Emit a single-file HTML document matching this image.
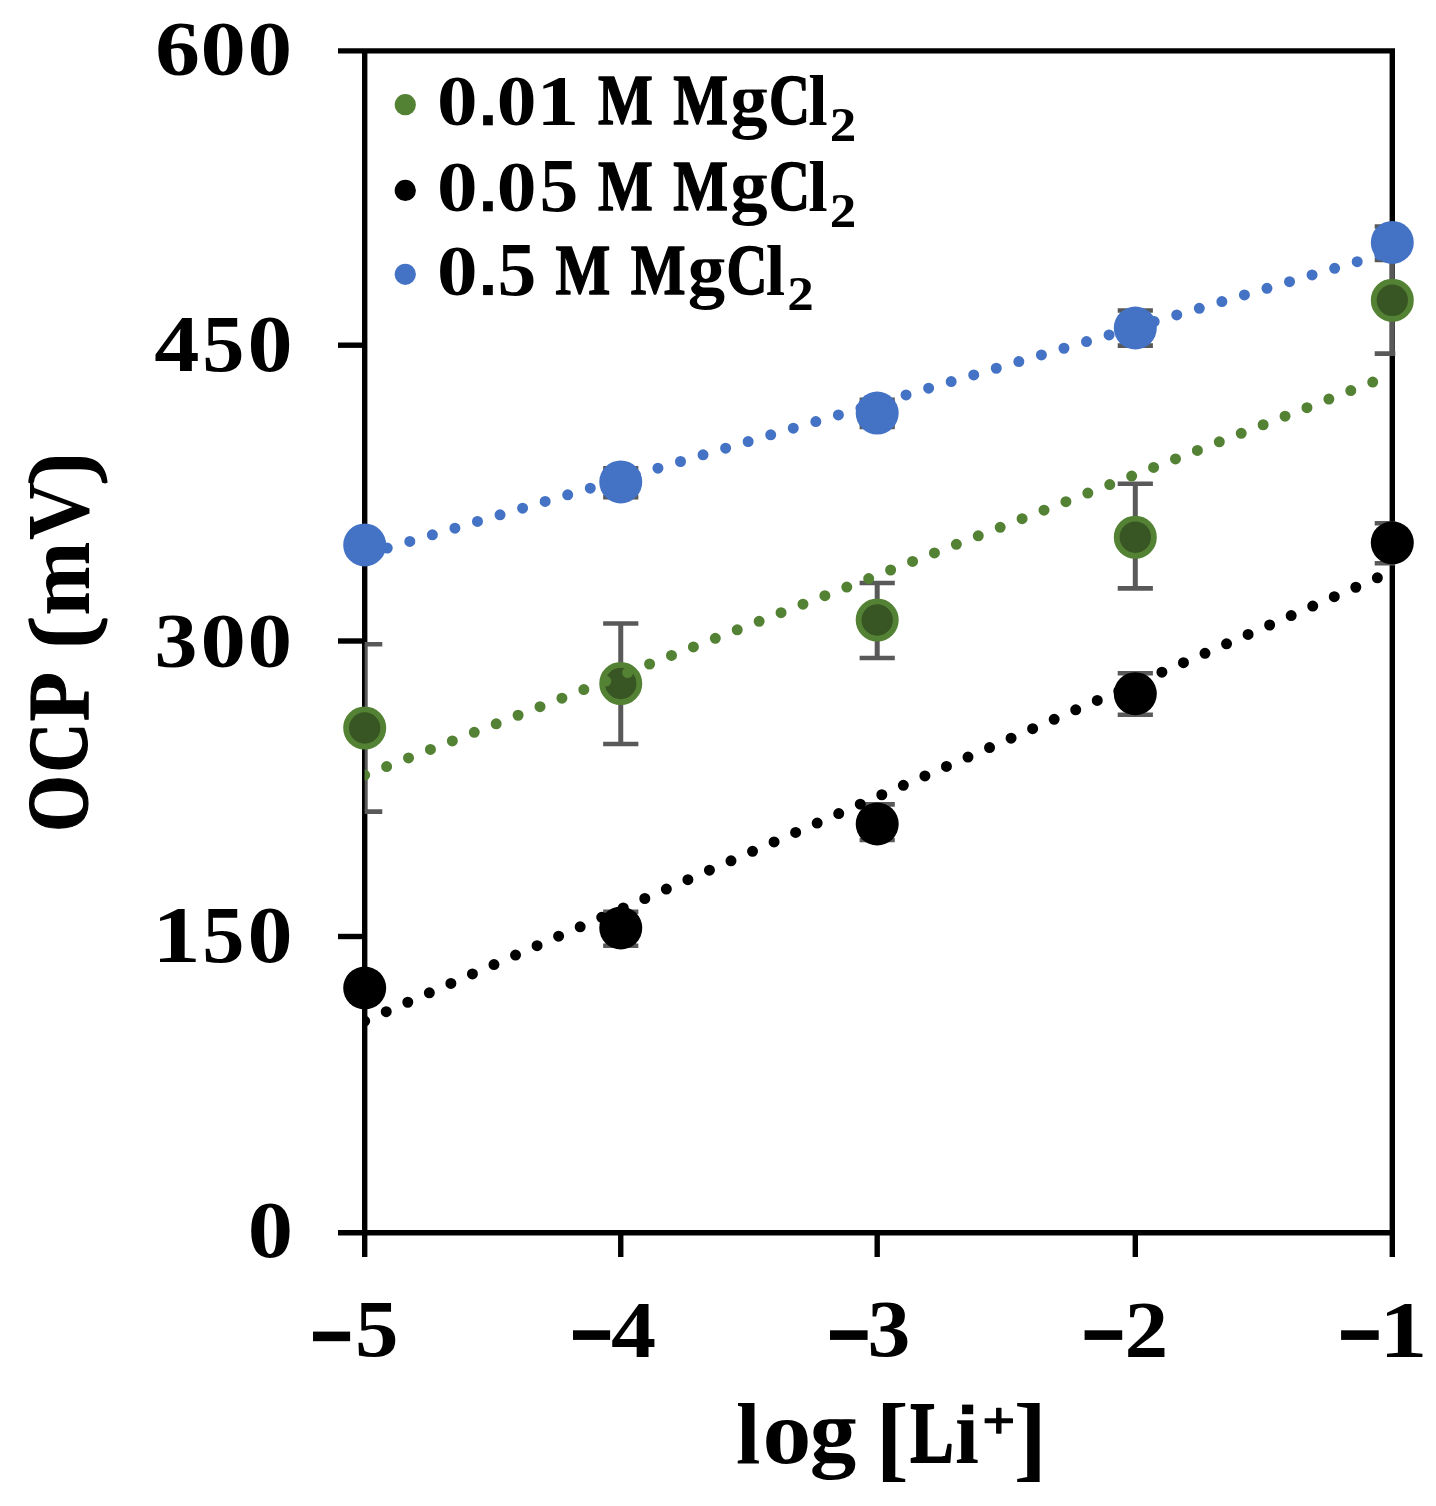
<!DOCTYPE html>
<html><head><meta charset="utf-8"><style>
html,body{margin:0;padding:0;background:#fff;width:1436px;height:1506px;overflow:hidden}
svg{display:block}
text{font-family:"Liberation Serif",serif;font-weight:bold}
</style></head><body>
<svg width="1436" height="1506" viewBox="0 0 1436 1506">
<rect width="1436" height="1506" fill="#fff"/>
<defs><clipPath id="pc"><rect x="364.7" y="48.4" width="1030.6" height="1186.8"/></clipPath></defs>
<g stroke="#000" stroke-width="5.4" fill="none" stroke-linecap="butt">
<path d="M338 50.9H1395.0 M364.7 48.199999999999996V1257 M338 1232.7H1392.3 M1392.3 48.199999999999996V1257"/>
<path d="M338 345.2H364.7"/>
<path d="M338 641.0H364.7"/>
<path d="M338 936.5H364.7"/>
<path d="M620.75 1232.7V1257"/>
<path d="M877.2 1232.7V1257"/>
<path d="M1135.3 1232.7V1257"/>
</g>
<g clip-path="url(#pc)" stroke="#595959" fill="none">
<path d="M364.7 644.2V811.6" stroke-width="5"/>
<path d="M347.09999999999997 644.2H382.3 M347.09999999999997 811.6H382.3" stroke-width="4.6"/>
<path d="M620.75 623.5V744.0" stroke-width="5"/>
<path d="M603.15 623.5H638.35 M603.15 744.0H638.35" stroke-width="4.6"/>
<path d="M877.2 583.0V658.0" stroke-width="5"/>
<path d="M859.6 583.0H894.8000000000001 M859.6 658.0H894.8000000000001" stroke-width="4.6"/>
<path d="M1135.3 483.7V588.4" stroke-width="5"/>
<path d="M1117.7 483.7H1152.8999999999999 M1117.7 588.4H1152.8999999999999" stroke-width="4.6"/>
<path d="M1392.3 247.3V353.6" stroke-width="5"/>
<path d="M1374.7 247.3H1409.8999999999999 M1374.7 353.6H1409.8999999999999" stroke-width="4.6"/>
<path d="M364.7 537V553" stroke-width="5"/>
<path d="M347.09999999999997 537H382.3 M347.09999999999997 553H382.3" stroke-width="4.6"/>
<path d="M620.75 468.4V497.2" stroke-width="5"/>
<path d="M603.15 468.4H638.35 M603.15 497.2H638.35" stroke-width="4.6"/>
<path d="M877.2 399.7V426.9" stroke-width="5"/>
<path d="M859.6 399.7H894.8000000000001 M859.6 426.9H894.8000000000001" stroke-width="4.6"/>
<path d="M1135.3 310.5V345.6" stroke-width="5"/>
<path d="M1117.7 310.5H1152.8999999999999 M1117.7 345.6H1152.8999999999999" stroke-width="4.6"/>
<path d="M1392.3 226.5V260.0" stroke-width="5"/>
<path d="M1374.7 226.5H1409.8999999999999 M1374.7 260.0H1409.8999999999999" stroke-width="4.6"/>
<path d="M364.7 980V996" stroke-width="5"/>
<path d="M347.09999999999997 980H382.3 M347.09999999999997 996H382.3" stroke-width="4.6"/>
<path d="M620.75 911.7V945.8" stroke-width="5"/>
<path d="M603.15 911.7H638.35 M603.15 945.8H638.35" stroke-width="4.6"/>
<path d="M877.2 804.4V840.0" stroke-width="5"/>
<path d="M859.6 804.4H894.8000000000001 M859.6 840.0H894.8000000000001" stroke-width="4.6"/>
<path d="M1135.3 673.3V714.8" stroke-width="5"/>
<path d="M1117.7 673.3H1152.8999999999999 M1117.7 714.8H1152.8999999999999" stroke-width="4.6"/>
<path d="M1392.3 523.3V563.3" stroke-width="5"/>
<path d="M1374.7 523.3H1409.8999999999999 M1374.7 563.3H1409.8999999999999" stroke-width="4.6"/>
</g>
<circle cx="364.7" cy="728.0" r="18.6" fill="#375623" stroke="#548235" stroke-width="5.8"/>
<circle cx="620.75" cy="683.5" r="18.6" fill="#375623" stroke="#548235" stroke-width="5.8"/>
<circle cx="877.2" cy="620.0" r="18.6" fill="#375623" stroke="#548235" stroke-width="5.8"/>
<circle cx="1135.3" cy="537.2" r="18.6" fill="#375623" stroke="#548235" stroke-width="5.8"/>
<circle cx="1392.3" cy="300.3" r="18.6" fill="#375623" stroke="#548235" stroke-width="5.8"/>
<circle cx="364.7" cy="988.0" r="21.5" fill="#000"/>
<circle cx="620.75" cy="928.0" r="21.5" fill="#000"/>
<circle cx="877.2" cy="824.0" r="21.5" fill="#000"/>
<circle cx="1135.3" cy="693.7" r="21.5" fill="#000"/>
<circle cx="1392.3" cy="542.8" r="21.5" fill="#000"/>
<circle cx="364.7" cy="544.9" r="21.5" fill="#4472C4"/>
<circle cx="620.75" cy="481.9" r="21.5" fill="#4472C4"/>
<circle cx="877.2" cy="413.1" r="21.5" fill="#4472C4"/>
<circle cx="1135.3" cy="328.0" r="21.5" fill="#4472C4"/>
<circle cx="1392.3" cy="242.4" r="21.5" fill="#4472C4"/>
<g clip-path="url(#pc)" fill="none" stroke-width="11" stroke-linecap="round" stroke-dasharray="0 23.52">
<path d="M364.7 775.06L1392.3 374.39" stroke="#548235"/>
<path d="M364.7 1021.12L1392.3 571.29" stroke="#000"/>
<path d="M364.7 554.78L1392.3 251.28" stroke="#4472C4"/>
</g>
<circle cx="405.3" cy="104.7" r="10.6" fill="#548235"/>
<circle cx="405.3" cy="190.4" r="10.6" fill="#000"/>
<circle cx="405.3" cy="274.3" r="10.6" fill="#4472C4"/>
<g font-family="Liberation Serif" font-weight="bold" font-size="100" fill="#000" style="font-kerning:none">
<text transform="matrix(0.8116 0 0 0.7261 436.91 124.89)">0</text>
<rect x="483.1" y="115.2" width="9.7" height="10.1"/>
<text transform="matrix(0.7951 0 0 0.7261 496.67 124.89)">0</text>
<text transform="matrix(0.8529 0 0 0.7260 536.57 124.90)">1</text>
<text transform="matrix(0.5813 0 0 0.7090 598.11 124.26)" stroke="#000" stroke-width="2.064" stroke-linejoin="round">M</text>
<text transform="matrix(0.5813 0 0 0.7090 673.21 124.26)" stroke="#000" stroke-width="2.064" stroke-linejoin="round">M</text>
<clipPath id="gc1"><rect x="729.1" y="89.70" width="40.7" height="55.5"/></clipPath>
<g clip-path="url(#gc1)"><text transform="matrix(0.7481 0 0 0.7299 730.13 124.09)">g</text></g>
<rect x="745.0" y="89.70" width="21.8" height="2.8"/>
<text transform="matrix(0.5677 0 0 0.7100 768.93 124.36)" stroke="#000" stroke-width="2.114" stroke-linejoin="round">C</text>
<text transform="matrix(0.7006 0 0 0.7105 808.33 125.00)">l</text>
<text transform="matrix(0.5301 0 0 0.4939 829.67 140.60)">2</text>
<text transform="matrix(0.8116 0 0 0.7261 436.91 210.89)">0</text>
<rect x="483.1" y="201.2" width="9.7" height="10.1"/>
<text transform="matrix(0.7951 0 0 0.7261 496.67 210.89)">0</text>
<text transform="matrix(0.7772 0 0 0.7584 539.49 210.86)">5</text>
<text transform="matrix(0.5813 0 0 0.7090 598.11 210.26)" stroke="#000" stroke-width="2.064" stroke-linejoin="round">M</text>
<text transform="matrix(0.5813 0 0 0.7090 673.21 210.26)" stroke="#000" stroke-width="2.064" stroke-linejoin="round">M</text>
<clipPath id="gc2"><rect x="729.1" y="175.70" width="40.7" height="55.5"/></clipPath>
<g clip-path="url(#gc2)"><text transform="matrix(0.7481 0 0 0.7299 730.13 210.09)">g</text></g>
<rect x="745.0" y="175.70" width="21.8" height="2.8"/>
<text transform="matrix(0.5677 0 0 0.7100 768.93 210.36)" stroke="#000" stroke-width="2.114" stroke-linejoin="round">C</text>
<text transform="matrix(0.7006 0 0 0.7105 808.33 211.00)">l</text>
<text transform="matrix(0.5301 0 0 0.4939 829.67 226.60)">2</text>
<text transform="matrix(0.8116 0 0 0.7261 436.91 294.69)">0</text>
<rect x="483.1" y="285.0" width="9.7" height="10.1"/>
<text transform="matrix(0.7772 0 0 0.7584 497.39 294.66)">5</text>
<text transform="matrix(0.5813 0 0 0.7090 555.61 294.06)" stroke="#000" stroke-width="2.064" stroke-linejoin="round">M</text>
<text transform="matrix(0.5813 0 0 0.7090 630.71 294.06)" stroke="#000" stroke-width="2.064" stroke-linejoin="round">M</text>
<clipPath id="gc3"><rect x="686.6" y="259.50" width="40.7" height="55.5"/></clipPath>
<g clip-path="url(#gc3)"><text transform="matrix(0.7481 0 0 0.7299 687.63 293.89)">g</text></g>
<rect x="702.5" y="259.50" width="21.8" height="2.8"/>
<text transform="matrix(0.5677 0 0 0.7100 726.43 294.16)" stroke="#000" stroke-width="2.114" stroke-linejoin="round">C</text>
<text transform="matrix(0.7006 0 0 0.7105 765.83 294.80)">l</text>
<text transform="matrix(0.5301 0 0 0.4939 787.17 310.40)">2</text>
<text transform="matrix(0.8934 0 0 0.7913 155.35 74.93)">6</text>
<text transform="matrix(0.9084 0 0 0.7913 200.54 74.93)">0</text>
<text transform="matrix(0.8919 0 0 0.7913 247.50 74.93)">0</text>
<text transform="matrix(0.9043 0 0 0.7958 154.36 370.52)">4</text>
<text transform="matrix(0.8433 0 0 0.7958 202.32 370.52)">5</text>
<text transform="matrix(0.9013 0 0 0.7958 247.47 370.52)">0</text>
<text transform="matrix(0.8594 0 0 0.7928 154.57 666.63)">3</text>
<text transform="matrix(0.9084 0 0 0.7928 200.54 666.63)">0</text>
<text transform="matrix(0.8919 0 0 0.7928 247.50 666.63)">0</text>
<text transform="matrix(0.9697 0 0 0.8017 152.24 962.22)">1</text>
<text transform="matrix(0.8433 0 0 0.8017 202.32 962.22)">5</text>
<text transform="matrix(0.9013 0 0 0.8017 247.47 962.22)">0</text>
<text transform="matrix(0.9060 0 0 0.8002 247.75 1257.42)">0</text>
<text transform="matrix(0.8693 0 0 0.8111 355.02 1355.71)">5</text>
<rect x="313" y="1331.6" width="37.1" height="9.6"/>
<text transform="matrix(0.9021 0 0 0.8007 610.97 1356.50)">4</text>
<rect x="573" y="1330.3" width="37.1" height="9.6"/>
<text transform="matrix(0.8570 0 0 0.8022 867.38 1355.72)">3</text>
<rect x="830" y="1330.3" width="37.6" height="9.6"/>
<text transform="matrix(0.8746 0 0 0.7959 1124.43 1356.50)">2</text>
<rect x="1084.6" y="1330.3" width="37.6" height="9.6"/>
<text transform="matrix(0.9642 0 0 0.7983 1379.28 1356.50)">1</text>
<rect x="1341.1" y="1330.3" width="37.6" height="9.6"/>
<text transform="matrix(0.8789 0 0 0.8633 736.08 1462.90)">l</text>
<text transform="matrix(0.9768 0 0 0.9148 762.48 1462.71)">o</text>
<clipPath id="gc4"><rect x="809.3" y="1419.40" width="49.1" height="66.8"/></clipPath>
<g clip-path="url(#gc4)"><text transform="matrix(0.9291 0 0 0.8932 809.85 1461.49)">g</text></g>
<rect x="828.0" y="1419.40" width="27.4" height="4.2"/>
<text transform="matrix(1.0015 0 0 0.9449 875.47 1468.56)">[</text>
<text transform="matrix(0.6514 0 0 0.8607 910.19 1461.98)" stroke="#000" stroke-width="2.149" stroke-linejoin="round">L</text>
<text transform="matrix(0.8623 0 0 0.9412 954.91 1462.90)">ı</text>
<rect x="962.1" y="1404.6" width="11.1" height="9.6"/>
<text transform="matrix(0.5808 0 0 0.5307 982.34 1438.42)" stroke="#000" stroke-width="2.410" stroke-linejoin="round">+</text>
<text transform="matrix(1.0105 0 0 0.9449 1013.45 1468.56)">]</text>
<g transform="rotate(-90)">
<text transform="matrix(0.7278 0 0 0.8576 -831.65 87.37)" stroke="#000" stroke-width="1.374" stroke-linejoin="round">O</text>
<text transform="matrix(0.6816 0 0 0.8529 -772.23 87.22)" stroke="#000" stroke-width="1.761" stroke-linejoin="round">C</text>
<text transform="matrix(0.8029 0 0 0.8693 -721.17 88.06)" stroke="#000" stroke-width="1.245" stroke-linejoin="round">P</text>
<text transform="matrix(0.8960 0 0 0.9147 -616.11 88.60)">m</text>
<text transform="matrix(0.8046 0 0 0.8852 -540.20 88.16)">V</text>
</g>
<path d="M28.3 619.00 C29.5 633.28 37 644.50 56 644.50 L80 644.50 C99 644.50 106.5 633.28 107.6 619.00 C107 617.80 102.5 617.80 101.9 619.60 C100.5 628.43 95 632.30 80 632.30 L56 632.30 C41 632.30 35.3 628.43 34 619.60 C33.4 617.80 28.9 617.80 28.3 619.00Z"/>
<path d="M28.3 482.60 C29.5 468.32 37 457.10 56 457.10 L80 457.10 C99 457.10 106.5 468.32 107.6 482.60 C107 483.80 102.5 483.80 101.9 482.00 C100.5 473.17 95 469.30 80 469.30 L56 469.30 C41 469.30 35.3 473.17 34 482.00 C33.4 483.80 28.9 483.80 28.3 482.60Z"/>
</g>
</svg>
</body></html>
